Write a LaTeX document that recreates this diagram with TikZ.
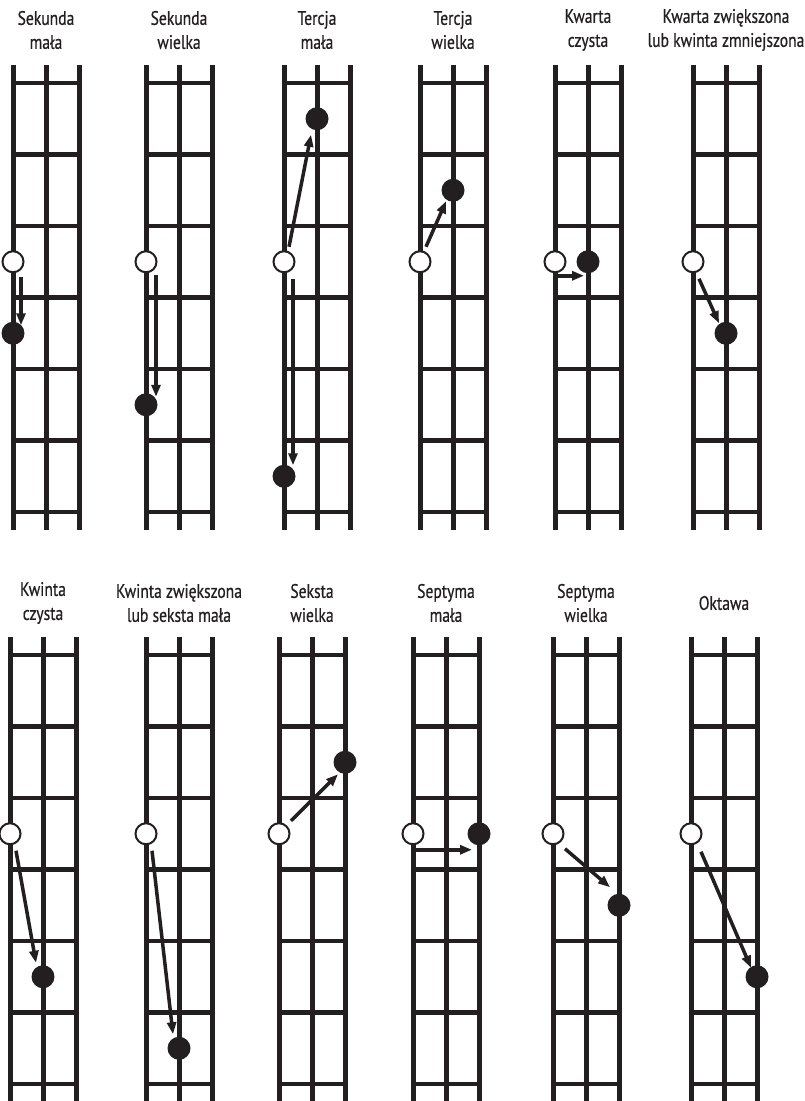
\documentclass[tikz,border=0pt]{standalone}
\usepackage{fontspec}
\setmainfont{PT Sans}[FakeStretch=0.8,FakeBold=0.6]
\usetikzlibrary{arrows.meta}
\definecolor{ink}{HTML}{231F20}

% strings and frets of one board, origin at the top of the left string
\newcommand{\fretboard}{%
    \foreach \s in {0,33,66} \draw[string] (\s,0) -- (\s,465);
    \foreach \k in {0,...,6} \draw[fret] (-2,{18+71.5*\k}) -- (68,{18+71.5*\k});
}

\tikzset{
    string/.style={line width=5pt, draw=ink},
    fret/.style={line width=4.5pt, draw=ink},
    title/.style={align=center, text=ink, font=\fontsize{19.5}{24}\selectfont},
    open/.style={circle, draw=ink, fill=white, line width=2pt, minimum size=21pt, inner sep=0pt},
    stopped/.style={circle, fill=ink, minimum size=23pt, inner sep=0pt},
    arr/.style={draw=ink, line width=3.5pt, -{Triangle[length=12pt,width=9pt]}, fill=ink}
}

\begin{document}
\begin{tikzpicture}[x=1pt,y=-1pt]
    \useasboundingbox (0,0) rectangle (805,1101);

    % top row
    \begin{scope}[shift={(13,65)}]
        \fretboard
        \node[title] (t1) at (33,-35) {Sekunda\\mała};
        \node[open] (o1) at (0,196.75) {};
        \node[stopped] (f1) at (0,268.25) {};
        \draw[arr] ([shift={(8,15)}]o1.center) -- ([shift={(8,-8)}]f1.center);
    \end{scope}
    \begin{scope}[shift={(146,65)}]
        \fretboard
        \node[title] (t2) at (33,-35) {Sekunda\\wielka};
        \node[open] (o2) at (0,196.75) {};
        \node[stopped] (f2) at (0,339.75) {};
        \draw[arr] ([shift={(10,13)}]o2.center) -- ([shift={(10,-8)}]f2.center);
    \end{scope}
    \begin{scope}[shift={(284,65)}]
        \fretboard
        \node[title] (t3) at (33,-35) {Tercja\\mała};
        \node[open] (o3) at (0,196.75) {};
        \node[stopped] (f3a) at (33,53.75) {};
        \node[stopped] (f3b) at (0,411.25) {};
        \draw[arr] ([shift={(5,-15)}]o3.center) -- ([shift={(-6,16)}]f3a.center);
        \draw[arr] ([shift={(9,17)}]o3.center) -- ([shift={(9,-11)}]f3b.center);
    \end{scope}
    \begin{scope}[shift={(420,65)}]
        \fretboard
        \node[title] (t4) at (33,-35) {Tercja\\wielka};
        \node[open] (o4) at (0,196.75) {};
        \node[stopped] (f4) at (33,125.25) {};
        \draw[arr] ([shift={(6,-15)}]o4.center) -- ([shift={(-7,11)}]f4.center);
    \end{scope}
    \begin{scope}[shift={(555,65)}]
        \fretboard
        \node[title] (t5) at (33,-35) {Kwarta\\czysta};
        \node[open] (o5) at (0,196.75) {};
        \node[stopped] (f5) at (33,196.75) {};
        \draw[arr] ([shift={(-2,14)}]o5.center) -- ([shift={(-4,14)}]f5.center);
    \end{scope}
    \begin{scope}[shift={(693,65)}]
        \fretboard
        \node[title] (t6) at (33,-35) {Kwarta zwiększona\\lub kwinta zmniejszona};
        \node[open] (o6) at (0,196.75) {};
        \node[stopped] (f6) at (33,268.25) {};
        \draw[arr] ([shift={(6,17)}]o6.center) -- ([shift={(-7,-10)}]f6.center);
    \end{scope}

    % bottom row
    \begin{scope}[shift={(10,637)}]
        \fretboard
        \node[title] (t7) at (33,-34) {Kwinta\\czysta};
        \node[open] (o7) at (0,196.75) {};
        \node[stopped] (f7) at (33,339.75) {};
        \draw[arr] ([shift={(6,17)}]o7.center) -- ([shift={(-7,-14)}]f7.center);
    \end{scope}
    \begin{scope}[shift={(146,637)}]
        \fretboard
        \node[title] (t8) at (33,-34) {Kwinta zwiększona\\lub seksta mała};
        \node[open] (o8) at (0,196.75) {};
        \node[stopped] (f8) at (33,411.25) {};
        \draw[arr] ([shift={(6,17)}]o8.center) -- ([shift={(-6,-14)}]f8.center);
    \end{scope}
    \begin{scope}[shift={(279,637)}]
        \fretboard
        \node[title] (t9) at (33,-34) {Seksta\\wielka};
        \node[open] (o9) at (0,196.75) {};
        \node[stopped] (f9) at (66,125.25) {};
        \draw[arr] ([shift={(12,-13)}]o9.center) -- ([shift={(-7,12)}]f9.center);
    \end{scope}
    \begin{scope}[shift={(413,637)}]
        \fretboard
        \node[title] (t10) at (33,-34) {Septyma\\mała};
        \node[open] (o10) at (0,196.75) {};
        \node[stopped] (f10) at (66,196.75) {};
        \draw[arr] ([shift={(0,16)}]o10.center) -- ([shift={(-7,16)}]f10.center);
    \end{scope}
    \begin{scope}[shift={(553,637)}]
        \fretboard
        \node[title] (t11) at (33,-34) {Septyma\\wielka};
        \node[open] (o11) at (0,196.75) {};
        \node[stopped] (f11) at (66,268.25) {};
        \draw[arr] ([shift={(12,15)}]o11.center) -- ([shift={(-9,-18)}]f11.center);
    \end{scope}
    \begin{scope}[shift={(691,637)}]
        \fretboard
        \node[title] (t12) at (33,-34) {Oktawa};
        \node[open] (o12) at (0,196.75) {};
        \node[stopped] (f12) at (66,339.75) {};
        \draw[arr] ([shift={(10,18)}]o12.center) -- ([shift={(-6,-9)}]f12.center);
    \end{scope}
\end{tikzpicture}
\end{document}
